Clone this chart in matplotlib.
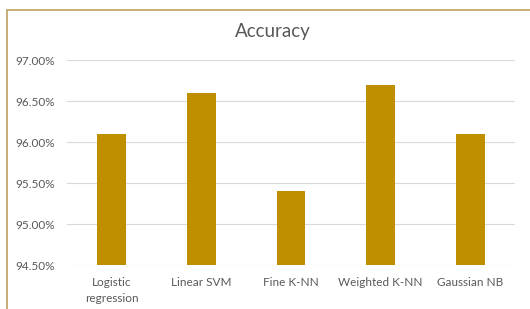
import matplotlib.pyplot as plt
from matplotlib.patches import Rectangle
from matplotlib.ticker import FuncFormatter

models = ["Logistic\nregression", "Linear SVM", "Fine K-NN", "Weighted K-NN", "Gaussian NB"]
accuracy = [96.1, 96.6, 95.4, 96.7, 96.1]
yticks = [94.5, 95.0, 95.5, 96.0, 96.5, 97.0]

plt.rcParams['font.family'] = ['Lato', 'DejaVu Sans']

fig = plt.figure(figsize=(5.30, 3.09), dpi=100)
ax = fig.add_axes([67 / 530, 1 - 265 / 309, 448 / 530, 205 / 309])

x = range(len(models))
ax.bar(x, accuracy, width=0.32, color='#BF8F00', zorder=2)
ax.set_ylim(94.5, 97.0)
ax.set_xlim(-0.5, len(models) - 0.5)
ax.set_yticks(yticks)
ax.yaxis.set_major_formatter(FuncFormatter(lambda v, p: "%.2f%%" % v))
ax.set_xticks(list(x))
ax.set_xticklabels(models, linespacing=1.5)
ax.grid(axis='y', color='#D9D9D9', linewidth=0.8, zorder=0)
for s in ax.spines.values():
    s.set_visible(False)
ax.tick_params(length=0, labelsize=8.5, colors='#595959')
ax.tick_params(axis='x', pad=9)
ax.tick_params(axis='y', pad=9)

fig.text(0.515, 1 - 32 / 309, "Accuracy", ha='center', va='center', fontsize=13.5, color='#595959')

# chart border (left and top edges visible)
fig.add_artist(Rectangle((7 / 530, -0.1), 1.2, 1 - 10 / 309 + 0.1, transform=fig.transFigure,
                         fill=False, edgecolor='#BFA060', linewidth=1.2))

fig.savefig("out.png", dpi=100)
